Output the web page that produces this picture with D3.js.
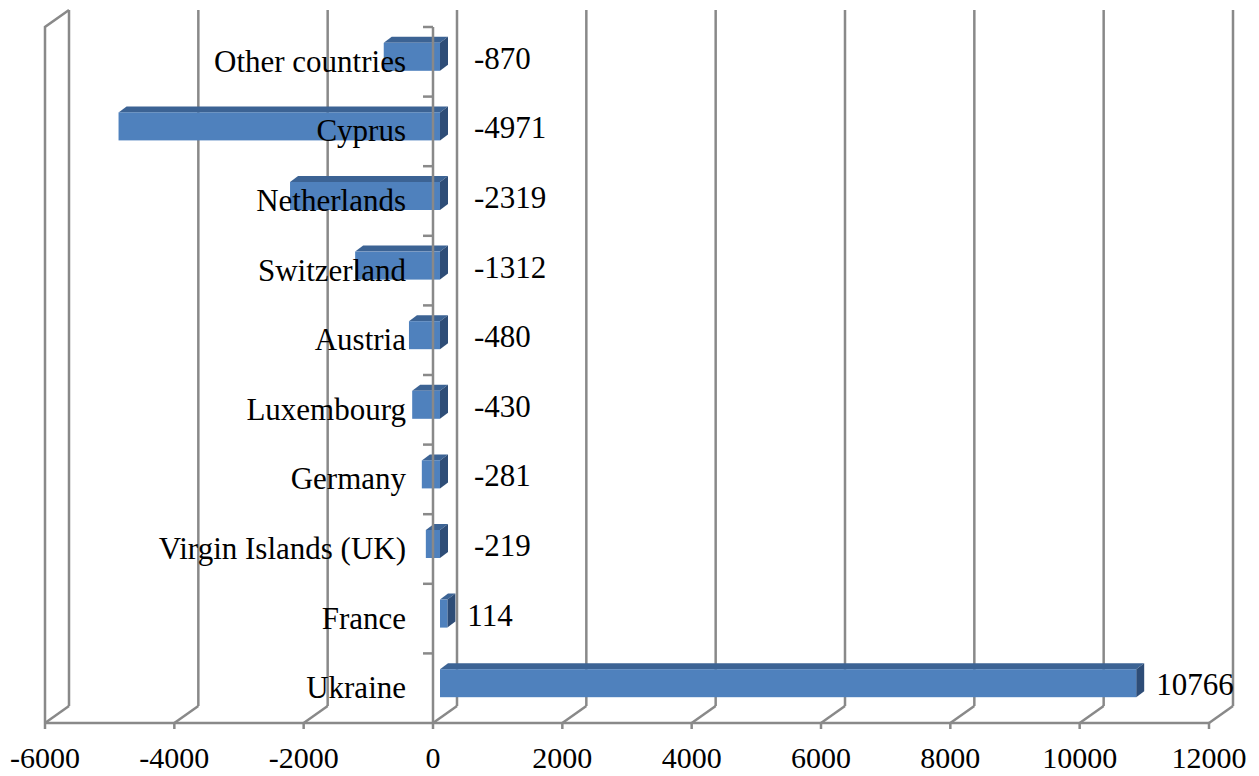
<!DOCTYPE html>
<html>
<head>
<meta charset="utf-8">
<script src="https://cdn.jsdelivr.net/npm/d3@7"></script>
<style>
  body { margin: 0; background: #fff; }
  text { font-family: "Liberation Serif", "Times New Roman", serif; fill: #000; }
</style>
</head>
<body>
<div id="chart"></div>
<script>
// data, top to bottom as drawn
let categories = ["Other countries", "Cyprus", "Netherlands", "Switzerland", "Austria",
    "Luxembourg", "Germany", "Virgin Islands (UK)", "France", "Ukraine"];
let values = [-870, -4971, -2319, -1312, -480, -430, -281, -219, 114, 10766];
let xTicks = [-6000, -4000, -2000, 0, 2000, 4000, 6000, 8000, 10000, 12000];

let W = 1259, H = 776;
let front = {left: 45, right: 1209, top: 27, bottom: 723};
let depth = {dx: 24, dy: -17};          // wall depth
let barOff = {dx: 7, dy: -5};           // where bar front sits in the depth
let barDepth = {dx: 8, dy: -6};         // thickness of the bar in depth
let gridColor = "#898989";

let svg = d3.select("#chart").append("svg")
    .attr("width", W)
    .attr("height", H);

let x = d3.scaleLinear()
    .domain([xTicks[0], xTicks[xTicks.length - 1]])
    .range([front.left, front.right]);

let y = d3.scaleBand()
    .domain(categories)
    .range([front.top, front.bottom])
    .padding(0);

let grid = svg.append("g")
    .attr("fill", "none")
    .attr("stroke", gridColor)
    .attr("stroke-width", 2.5);

// back gridlines + floor diagonals
xTicks.forEach(t => {
    let fx = x(t);
    grid.append("line")
        .attr("x1", fx + depth.dx).attr("x2", fx + depth.dx)
        .attr("y1", front.bottom + depth.dy).attr("y2", front.top + depth.dy);
    grid.append("line")
        .attr("x1", fx).attr("y1", front.bottom)
        .attr("x2", fx + depth.dx).attr("y2", front.bottom + depth.dy);
});

// left wall front edge + top diagonal
grid.append("path")
    .attr("d", "M" + x(xTicks[0]) + "," + front.bottom +
        "V" + front.top +
        "L" + (x(xTicks[0]) + depth.dx) + "," + (front.top + depth.dy));

// bottom axis line + ticks
grid.append("line")
    .attr("x1", front.left).attr("x2", front.right)
    .attr("y1", front.bottom).attr("y2", front.bottom);
xTicks.forEach(t => {
    grid.append("line")
        .attr("x1", x(t)).attr("x2", x(t))
        .attr("y1", front.bottom).attr("y2", front.bottom + 6);
});

svg.append("g")
    .selectAll("text")
    .data(xTicks)
    .join("text")
    .attr("x", d => x(d))
    .attr("y", 768)
    .attr("text-anchor", "middle")
    .style("font-size", "30px")
    .text(d => d);

// bars
let barH = 28;
let bars = svg.append("g");
categories.forEach((c, i) => {
    let v = values[i];
    let cy = y(c) + y.bandwidth() / 2 + barOff.dy;
    let x0 = x(Math.min(v, 0)) + barOff.dx,
        x1 = x(Math.max(v, 0)) + barOff.dx;
    let y0 = cy - barH / 2, y1 = cy + barH / 2;
    let g = bars.append("g");
    g.append("polygon")
        .attr("points", [[x0, y0], [x1, y0], [x1 + barDepth.dx, y0 + barDepth.dy], [x0 + barDepth.dx, y0 + barDepth.dy]].join(" "))
        .attr("fill", "#3c6394");
    g.append("polygon")
        .attr("points", [[x1, y0], [x1 + barDepth.dx, y0 + barDepth.dy], [x1 + barDepth.dx, y1 + barDepth.dy], [x1, y1]].join(" "))
        .attr("fill", "#2e4d77");
    g.append("rect")
        .attr("x", x0).attr("y", y0)
        .attr("width", x1 - x0).attr("height", barH)
        .attr("fill", "#4f81bd");
});

// category axis (drawn over bars)
let catAxis = svg.append("g")
    .attr("stroke", gridColor)
    .attr("stroke-width", 2.5);
catAxis.append("line")
    .attr("x1", x(0)).attr("x2", x(0))
    .attr("y1", front.top).attr("y2", front.bottom);
categories.forEach(c => {
    catAxis.append("line")
        .attr("x1", x(0) - 10).attr("x2", x(0))
        .attr("y1", y(c)).attr("y2", y(c));
});

// category labels
svg.append("g")
    .selectAll("text")
    .data(categories)
    .join("text")
    .attr("x", x(0) - 27)
    .attr("y", d => y(d) + y.bandwidth() / 2 + 10)
    .attr("text-anchor", "end")
    .style("font-size", "31px")
    .text(d => d);

// value labels
svg.append("g")
    .selectAll("text")
    .data(values)
    .join("text")
    .attr("x", d => d < 0 ? x(0) + 41 : x(d) + barOff.dx + 20)
    .attr("y", (d, i) => y(categories[i]) + y.bandwidth() / 2 + 7)
    .style("font-size", "31px")
    .text(d => d);
</script>
</body>
</html>
